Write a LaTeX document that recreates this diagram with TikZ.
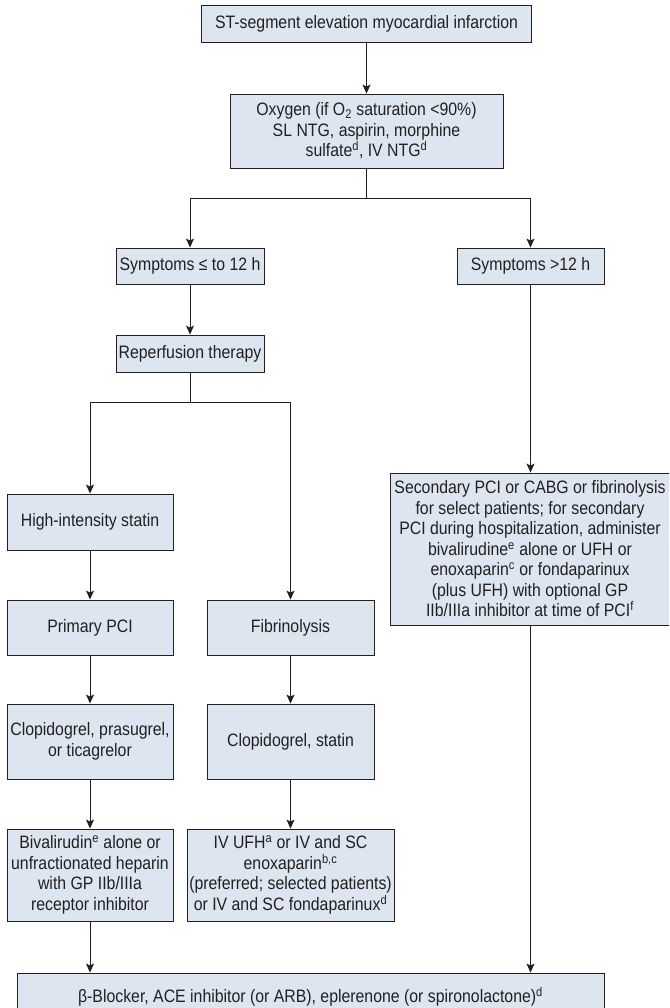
\documentclass[tikz,border=0pt]{standalone}
\usepackage{fontspec}
\setmainfont[FakeStretch=0.88]{Liberation Sans}
\usetikzlibrary{arrows.meta}
\definecolor{boxfill}{HTML}{DDE6F0}
\definecolor{ink}{HTML}{231F20}
\begin{document}
\begin{tikzpicture}[x=1pt,y=-1pt,
  box/.style={draw=ink, fill=boxfill, line width=0.9pt, align=center,
    inner sep=0pt, text=ink, font=\fontsize{18}{20.5}\selectfont},
  arr/.style={draw=ink, line width=0.9pt, -{Stealth[length=9pt,width=8pt,inset=2pt]}},
  ln/.style={draw=ink, line width=0.9pt}]
\useasboundingbox (0,0) rectangle (669,1008);
\clip (0,0) rectangle (669,1008);

% top of the pathway
\node[box, minimum width=330, minimum height=37] (stemi) at (366.5,23.5)
  {ST-segment elevation myocardial infarction};
\node[box, minimum width=273, minimum height=74] (oxy) at (366.5,131)
  {Oxygen (if O\textsubscript{2} saturation <90\%)\\SL NTG, aspirin, morphine\\sulfate\textsuperscript{d}, IV NTG\textsuperscript{d}};

% time since symptom onset
\node[box, minimum width=148, minimum height=36] (early) at (190,266)
  {Symptoms ≤ to 12 h};
\node[box, minimum width=147, minimum height=36] (late) at (530.5,266)
  {Symptoms >12 h};
\node[box, minimum width=148, minimum height=37] (reperf) at (190,353.5)
  {Reperfusion therapy};

% primary PCI branch
\node[box, minimum width=166, minimum height=56] (statin) at (90,522)
  {High-intensity statin};
\node[box, minimum width=166, minimum height=55] (ppci) at (90,627.5)
  {Primary PCI};
\node[box, minimum width=166, minimum height=75] (clop1) at (90,741.5)
  {Clopidogrel, prasugrel,\\or ticagrelor};
\node[box, minimum width=166, minimum height=92] (biv) at (90,875)
  {Bivalirudin\textsuperscript{e} alone or\\unfractionated heparin\\with GP IIb/IIIa\\receptor inhibitor};

% fibrinolysis branch
\node[box, minimum width=167, minimum height=55] (fib) at (290.5,627.5)
  {Fibrinolysis};
\node[box, minimum width=167, minimum height=75] (clop2) at (290.5,741.5)
  {Clopidogrel, statin};
\node[box, minimum width=207, minimum height=92] (ufh) at (290.5,875)
  {IV UFH\textsuperscript{a} or IV and SC\\enoxaparin\textsuperscript{b,c}\\(preferred; selected patients)\\or IV and SC fondaparinux\textsuperscript{d}};

% late presentation
\node[box, minimum width=280, minimum height=152] (sec) at (530,549)
  {Secondary PCI or CABG or fibrinolysis\\for select patients; for secondary\\PCI during hospitalization, administer\\bivalirudine\textsuperscript{e} alone or UFH or\\enoxaparin\textsuperscript{c} or fondaparinux\\(plus UFH) with optional GP\\IIb/IIIa inhibitor at time of PCI\textsuperscript{f}};

% common end point
\node[box, minimum width=587, minimum height=47] (fin) at (310.5,996.5)
  {β-Blocker, ACE inhibitor (or ARB), eplerenone (or spironolactone)\textsuperscript{d}};

% junctions
\coordinate (j1) at (366.5,198);
\coordinate (j2) at (190,402);

% connectors
\draw[arr] (stemi) -- (oxy);
\draw[ln] (oxy) -- (j1);
\draw[arr] (j1) -| (early.north);
\draw[arr] (j1) -| (late.north);
\draw[arr] (early) -- (reperf);
\draw[ln] (reperf) -- (j2);
\draw[arr] (j2) -| (statin.north);
\draw[arr] (j2) -| (fib.north);
\draw[arr] (late.south) -- (late.south |- sec.north);
\draw[arr] (statin) -- (ppci);
\draw[arr] (ppci) -- (clop1);
\draw[arr] (clop1) -- (biv);
\draw[arr] (fib) -- (clop2);
\draw[arr] (clop2) -- (ufh);
\draw[arr] (biv.south) -- (biv.south |- fin.north);
\draw[arr] (late.south |- sec.south) -- (late.south |- fin.north);
\end{tikzpicture}
\end{document}
